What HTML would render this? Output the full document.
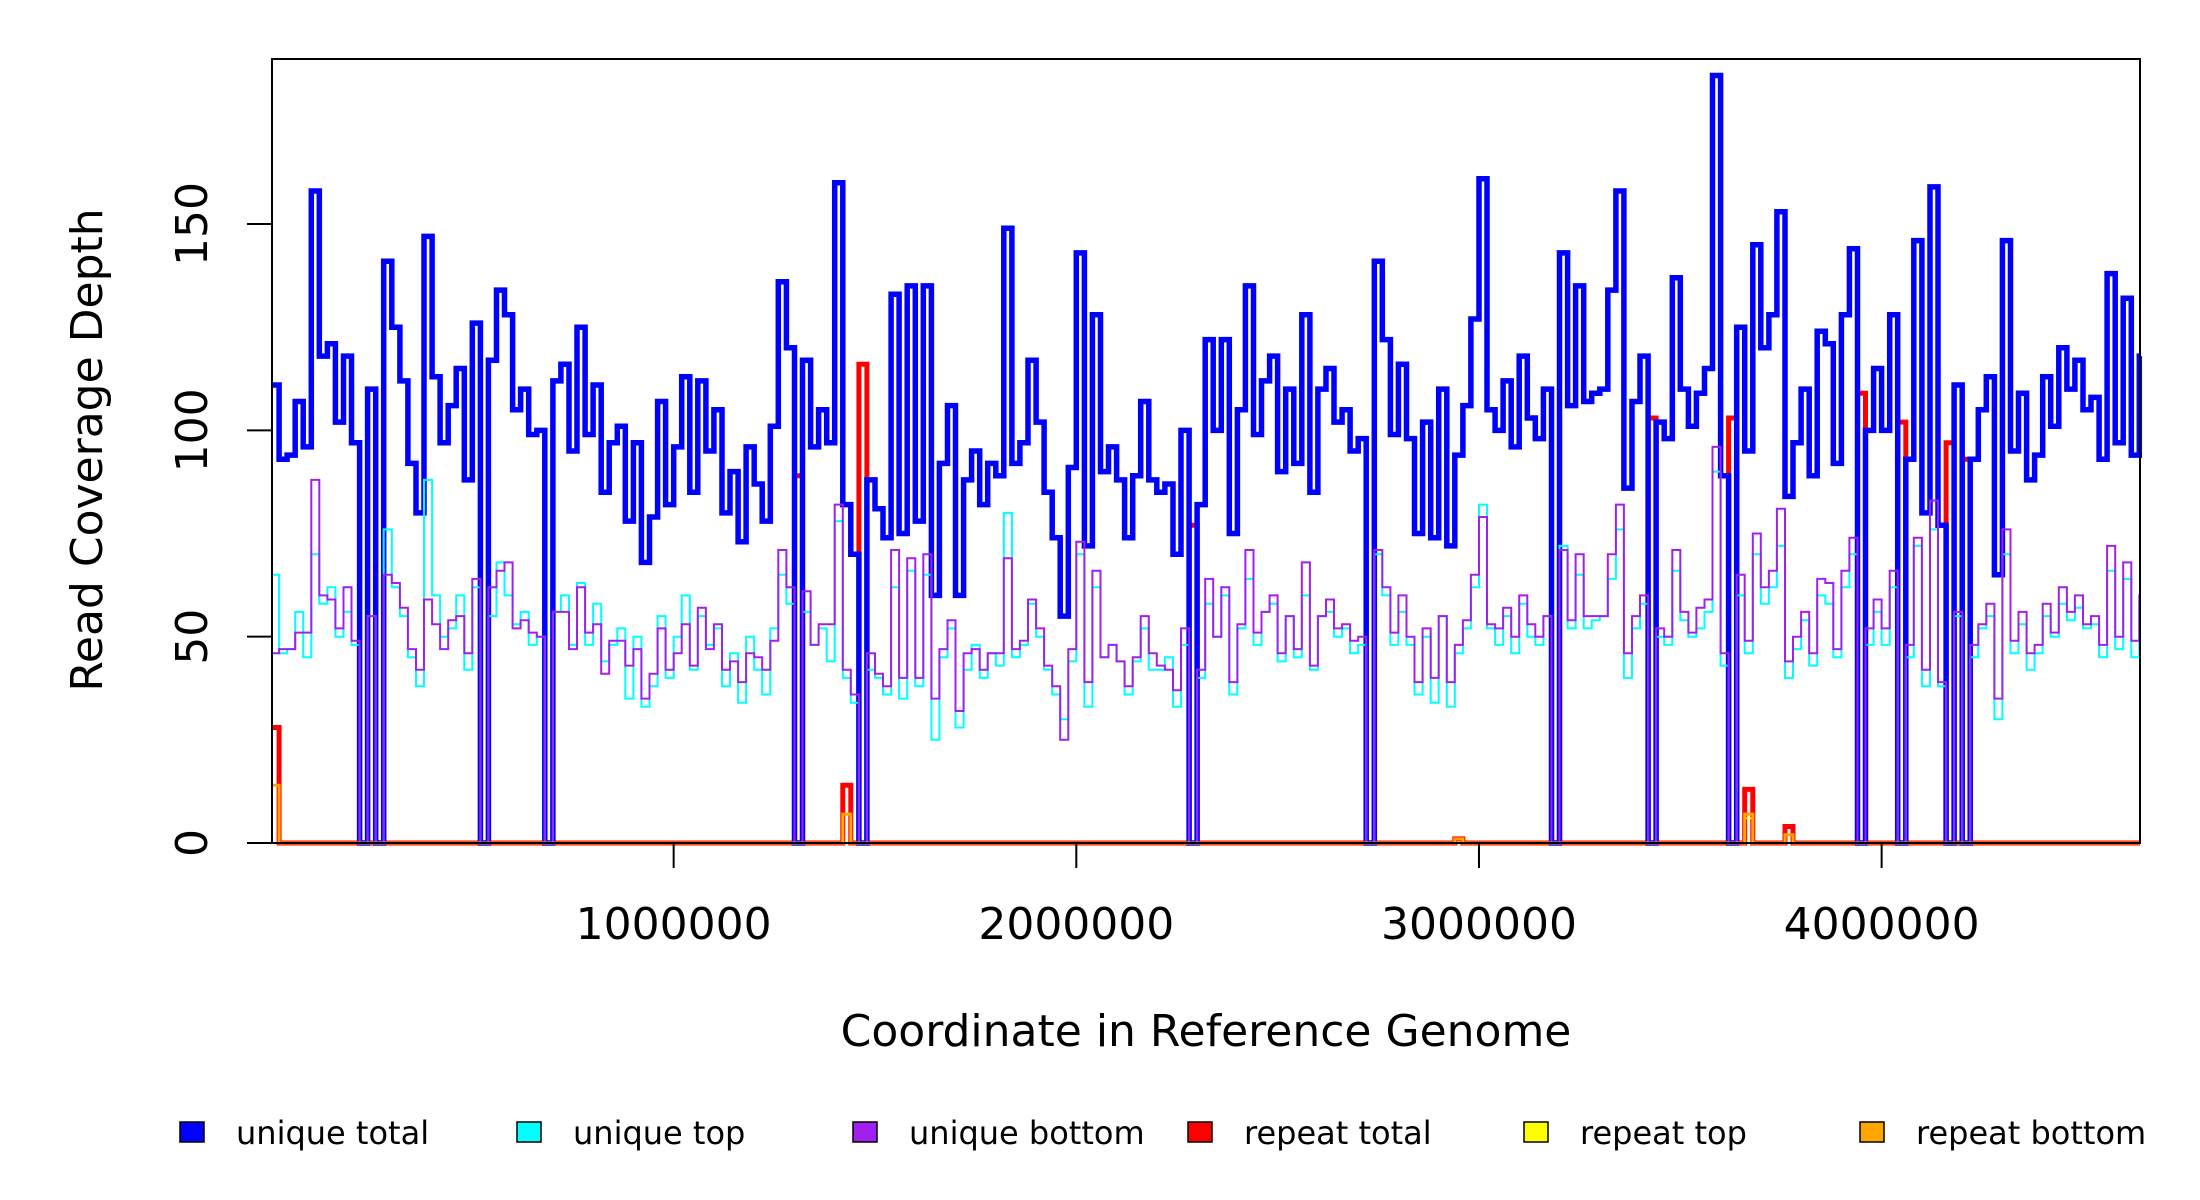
<!DOCTYPE html>
<html><head><meta charset="utf-8"><style>
html,body{margin:0;padding:0;background:#fff;}
svg{display:block;font-family:"DejaVu Sans","Liberation Sans",sans-serif;}
</style></head><body>
<svg id="chart" width="2200" height="1200" viewBox="0 0 2200 1200" xmlns="http://www.w3.org/2000/svg">
<rect x="0" y="0" width="2200" height="1200" fill="#fff"/>
<g id="series"></g>
<rect x="272" y="59" width="1868" height="784" fill="none" stroke="#000" stroke-width="2"/>
<g id="yaxis"></g>
<g id="xaxis"></g>
<text x="0" y="0" transform="translate(102,450) rotate(-90)" text-anchor="middle" font-size="44">Read Coverage Depth</text>
<text x="1206" y="1046" text-anchor="middle" font-size="44">Coordinate in Reference Genome</text>
<g id="legend"></g>
</svg>
<script>
const binSize = 20000;
const genomeLength = 4641652;
const yTicks = [0, 50, 100, 150];
const xTicks = [1000000, 2000000, 3000000, 4000000];
const xTickLabels = ["1000000", "2000000", "3000000", "4000000"];
const uniqueTotal = [111,93,94,107,96,158,118,121,102,118,
97,0,110,0,141,125,112,92,80,147,
113,97,106,115,88,126,0,117,134,128,
105,110,99,100,0,112,116,95,125,99,
111,85,97,101,78,97,68,79,107,82,
96,113,85,112,95,105,80,90,73,96,
87,78,101,136,120,0,117,96,105,97,
160,82,70,0,88,81,74,133,75,135,
78,135,60,92,106,60,88,95,82,92,
89,149,92,97,117,102,85,74,55,91,
143,72,128,90,96,88,74,89,107,88,
85,87,70,100,0,82,122,100,122,75,
105,135,99,112,118,90,110,92,128,85,
110,115,102,105,95,98,0,141,122,99,
116,98,75,102,74,110,72,94,106,127,
161,105,100,112,96,118,103,98,110,0,
143,106,135,107,109,110,134,158,86,107,
118,0,102,98,137,110,101,109,115,186,
89,0,125,95,145,120,128,153,84,97,
110,89,124,121,92,128,144,0,100,115,
100,128,0,93,146,80,159,77,0,111,
0,93,105,113,65,146,95,109,88,94,
113,101,120,110,117,105,108,93,138,97,
132,94,118];
const uniqueTop = [65,46,47,56,45,70,58,62,50,56,
48,0,55,0,76,62,55,45,38,88,
60,50,52,60,42,62,0,55,68,60,
53,56,48,50,0,56,60,48,63,48,
58,44,48,52,35,50,33,38,55,40,
50,60,42,55,48,52,38,46,34,50,
42,36,52,65,58,0,56,48,52,44,
78,40,34,0,42,40,36,62,35,66,
38,65,25,45,52,28,42,48,40,46,
43,80,45,48,58,50,42,36,30,44,
70,33,62,45,48,44,36,44,52,42,
42,45,33,48,0,40,58,50,60,36,
52,64,48,56,58,44,55,45,60,42,
55,56,50,52,46,48,0,70,60,48,
56,48,36,50,34,55,33,46,52,62,
82,52,48,55,46,58,50,48,55,0,
72,52,65,52,54,55,64,76,40,52,
58,0,50,48,66,54,50,52,56,90,
43,0,60,46,70,58,62,72,40,47,
54,43,60,58,45,62,70,0,48,56,
48,62,0,45,72,38,76,38,0,55,
0,45,52,55,30,70,46,53,42,46,
55,50,58,54,57,52,53,45,66,47,
64,45,58];
const uniqueBottom = [46,47,47,51,51,88,60,59,52,62,
49,0,55,0,65,63,57,47,42,59,
53,47,54,55,46,64,0,62,66,68,
52,54,51,50,0,56,56,47,62,51,
53,41,49,49,43,47,35,41,52,42,
46,53,43,57,47,53,42,44,39,46,
45,42,49,71,62,0,61,48,53,53,
82,42,36,0,46,41,38,71,40,69,
40,70,35,47,54,32,46,47,42,46,
46,69,47,49,59,52,43,38,25,47,
73,39,66,45,48,44,38,45,55,46,
43,42,37,52,0,42,64,50,62,39,
53,71,51,56,60,46,55,47,68,43,
55,59,52,53,49,50,0,71,62,51,
60,50,39,52,40,55,39,48,54,65,
79,53,52,57,50,60,53,50,55,0,
71,54,70,55,55,55,70,82,46,55,
60,0,52,50,71,56,51,57,59,96,
46,0,65,49,75,62,66,81,44,50,
56,46,64,63,47,66,74,0,52,59,
52,66,0,48,74,42,83,39,0,56,
0,48,53,58,35,76,49,56,46,48,
58,51,62,56,60,53,55,48,72,50,
68,49,60];
const repeatBins = [0, 65, 71, 73, 114, 147, 171, 181, 183, 188, 197, 202, 208, 210];
const repeatTotalVals = [28, 89, 14, 116, 77, 1, 103, 103, 13, 4, 109, 102, 97, 93];
const repeatTopVals = [14, 0, 7, 0, 0, 0, 0, 0, 6, 2, 0, 0, 0, 0];
const repeatBottomVals = [14, 0, 7, 0, 0, 1, 0, 0, 7, 2, 0, 0, 0, 0];

const X0 = 271, X1 = 2140, Y0 = 843, YTOP = 59, YMAX = 190;
function xs(v){ return X0 + v / genomeLength * (X1 - X0); }
function ys(v){ return Y0 - v / YMAX * (Y0 - YTOP); }
const NS = "http://www.w3.org/2000/svg";
function expand(bins, vals){
  const n = uniqueTotal.length; const out = new Array(n).fill(0);
  bins.forEach((b,i)=>{ out[b] = vals[i]; }); return out;
}
function stepPath(vals){
  let d = "";
  for (let i = 0; i < vals.length; i++){
    const xa = xs(Math.min(i*binSize, genomeLength)).toFixed(1);
    const xb = xs(Math.min((i+1)*binSize, genomeLength)).toFixed(1);
    const y = ys(vals[i]).toFixed(1);
    d += (i === 0 ? "M" + xa + " " + y : "V" + y) + "H" + xb;
  }
  return d;
}
const g = document.getElementById("series");
function addSeries(vals, color, w, name){
  const p = document.createElementNS(NS, "path");
  p.setAttribute("d", stepPath(vals));
  p.setAttribute("fill", "none");
  p.setAttribute("stroke", color);
  p.setAttribute("stroke-width", w);
  p.setAttribute("stroke-linejoin", "miter");
  
  
  g.appendChild(p);
}
addSeries(expand(repeatBins, repeatTotalVals), "#ff0000", 5, "repeat-total-line");
addSeries(expand(repeatBins, repeatTopVals), "#ffff00", 2, "repeat-top-line");
addSeries(uniqueTotal, "#0000ff", 5.5, "unique-total-line");
addSeries(uniqueTop, "#00ffff", 2, "unique-top-line");
addSeries(uniqueBottom, "#a020f0", 2, "unique-bottom-line");
addSeries(expand(repeatBins, repeatBottomVals), "#ffa500", 3, "repeat-bottom-line");

const ya = document.getElementById("yaxis");
yTicks.forEach(t=>{
  const y = ys(t);
  const l = document.createElementNS(NS, "line");
  l.setAttribute("x1", 247); l.setAttribute("x2", 272);
  l.setAttribute("y1", y); l.setAttribute("y2", y);
  l.setAttribute("stroke", "#000"); l.setAttribute("stroke-width", 2);
  
  
  ya.appendChild(l);
  const tx = document.createElementNS(NS, "text");
  tx.setAttribute("transform", "translate(207," + y + ") rotate(-90)");
  tx.setAttribute("text-anchor", "middle");
  tx.setAttribute("font-size", "44");
  tx.textContent = String(t);
  
  
  ya.appendChild(tx);
});
const xa = document.getElementById("xaxis");
xTicks.forEach((t,i)=>{
  const x = xs(t);
  const l = document.createElementNS(NS, "line");
  l.setAttribute("x1", x); l.setAttribute("x2", x);
  l.setAttribute("y1", 843); l.setAttribute("y2", 868);
  l.setAttribute("stroke", "#000"); l.setAttribute("stroke-width", 2);
  
  
  xa.appendChild(l);
  const tx = document.createElementNS(NS, "text");
  tx.setAttribute("x", x); tx.setAttribute("y", 939);
  tx.setAttribute("text-anchor", "middle");
  tx.setAttribute("font-size", "44");
  tx.textContent = xTickLabels[i];
  
  
  xa.appendChild(tx);
});
const legendLabels = ["unique total","unique top","unique bottom","repeat total","repeat top","repeat bottom"];
const legendColors = ["#0000ff","#00ffff","#a020f0","#ff0000","#ffff00","#ffa500"];
const legendX = [192, 529, 865, 1200, 1536, 1872];
const lg = document.getElementById("legend");
legendLabels.forEach((lab,i)=>{
  const r = document.createElementNS(NS, "rect");
  r.setAttribute("x", legendX[i]-12); r.setAttribute("y", 1122);
  r.setAttribute("width", 24); r.setAttribute("height", 20);
  r.setAttribute("fill", legendColors[i]); r.setAttribute("stroke", "#000"); r.setAttribute("stroke-width", 1.5);
  
  
  lg.appendChild(r);
  const t = document.createElementNS(NS, "text");
  t.setAttribute("x", legendX[i]+44); t.setAttribute("y", 1144);
  t.setAttribute("font-size", "32");
  t.textContent = lab;
  
  
  lg.appendChild(t);
});
</script>
</body></html>
